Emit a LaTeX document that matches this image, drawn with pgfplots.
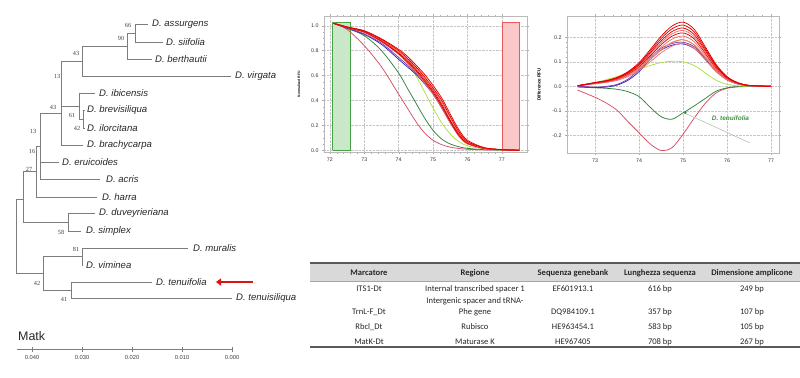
\documentclass[border=0pt]{standalone}
\usepackage{pgfplots}
\pgfplotsset{compat=1.18}
\usepackage{pgfplotstable}
\usepackage{fontspec}
\setmainfont{Liberation Sans}
\newfontfamily\carlito{Carlito}
\newfontfamily\tnr{Liberation Serif}
\usetikzlibrary{arrows.meta}

\definecolor{treegray}{RGB}{125,125,125}
\definecolor{arrowred}{RGB}{220,20,20}
\definecolor{bred}{RGB}{228,0,0}
\definecolor{lred}{RGB}{236,115,115}
\definecolor{pk}{RGB}{212,80,100}
\definecolor{dg}{RGB}{50,128,60}
\definecolor{yg}{RGB}{170,228,60}
\definecolor{bl}{RGB}{40,40,200}
\definecolor{pu}{RGB}{130,60,170}
\definecolor{orng}{RGB}{240,180,40}
\definecolor{headgray}{RGB}{217,217,217}
\definecolor{tabline}{RGB}{90,90,90}
\definecolor{annot}{RGB}{175,195,175}
\definecolor{gband}{RGB}{200,232,200}
\definecolor{gbandline}{RGB}{70,160,70}
\definecolor{rband}{RGB}{250,200,200}
\definecolor{rbandline}{RGB}{230,90,90}
\definecolor{annotgreen}{RGB}{60,150,60}

\pgfplotstableread{
x     r1    r2    r3    r4    r5    r6    or    bl    pu    yg    dg    pk
72.1  1.02  1.02  1.02  1.02  1.02  1.02  1.025 1.02  1.02  1.02  1.02  1.02
72.5  0.985 0.99  0.985 0.99  0.988 0.99  0.99  0.98  0.982 0.985 0.98  0.97
73.0  0.95  0.955 0.945 0.955 0.95  0.96  0.955 0.93  0.935 0.95  0.92  0.84
73.5  0.88  0.89  0.87  0.885 0.875 0.895 0.885 0.85  0.86  0.88  0.80  0.67
74.0  0.78  0.80  0.77  0.79  0.775 0.81  0.785 0.73  0.745 0.77  0.62  0.45
74.25 0.72  0.74  0.70  0.73  0.71  0.755 0.72  0.67  0.685 0.70  0.50  0.34
74.5  0.65  0.67  0.63  0.66  0.64  0.685 0.645 0.61  0.62  0.60  0.38  0.23
74.75 0.57  0.59  0.54  0.58  0.555 0.61  0.56  0.535 0.545 0.47  0.26  0.14
75.0  0.48  0.50  0.45  0.49  0.465 0.52  0.465 0.45  0.46  0.34  0.16  0.08
75.25 0.37  0.40  0.34  0.385 0.355 0.42  0.355 0.34  0.355 0.22  0.09  0.045
75.5  0.24  0.27  0.22  0.26  0.23  0.29  0.23  0.22  0.235 0.13  0.05  0.025
75.75 0.13  0.15  0.11  0.14  0.12  0.165 0.125 0.12  0.13  0.07  0.028 0.014
76.0  0.06  0.07  0.05  0.065 0.055 0.08  0.058 0.06  0.063 0.035 0.015 0.008
76.5  0.015 0.018 0.012 0.016 0.014 0.02  0.015 0.015 0.016 0.01  0.005 0.003
77.0  0.005 0.005 0.004 0.005 0.004 0.006 0.005 0.005 0.005 0.003 0.002 0.001
77.5  0     0     0     0     0     0     0     0     0     0     0     0
}\normtab

\pgfplotstableread{
x     r1     r2     r3     r4     r5     r6     r7     r8     or     bl     pu     yg     dg     pk
72.6  0.0026 0.0025 0.0024 0.0023 0.0022 0.0021 0.0019 0.0018 0.002  0.0    0.0    0.0    -0.003 -0.015
73.0  0.0157 0.015  0.0143 0.0137 0.0131 0.0123 0.0114 0.0105 0.012  -0.005 -0.003 0.015  -0.006 -0.045
73.25 0.0236 0.0225 0.0214 0.0205 0.0196 0.0185 0.0171 0.0158 0.02   -0.003 0.0    0.027  -0.008 -0.068
73.5  0.0367 0.035  0.0333 0.0319 0.0305 0.0287 0.0266 0.0245 0.03   0.005  0.008  0.04   -0.012 -0.098
73.75 0.0603 0.0575 0.0547 0.0524 0.0501 0.0472 0.0437 0.0403 0.048  0.025  0.03   0.055  -0.022 -0.145
74.0  0.0969 0.0925 0.0881 0.0844 0.0807 0.0759 0.0703 0.0648 0.075  0.06   0.068  0.07   -0.042 -0.19
74.25 0.1493 0.1425 0.1357 0.13   0.1243 0.1169 0.1083 0.0998 0.11   0.11   0.118  0.085  -0.085 -0.235
74.5  0.2044 0.195  0.1856 0.1778 0.17   0.1599 0.1482 0.1365 0.15   0.148  0.155  0.097  -0.124 -0.262
74.75 0.2463 0.235  0.2237 0.2143 0.2049 0.1927 0.1786 0.1645 0.18   0.168  0.175  0.102  -0.134 -0.25
75.0  0.262  0.25   0.238  0.228  0.218  0.205  0.19   0.175  0.19   0.173  0.18   0.1    -0.108 -0.195
75.25 0.2332 0.2225 0.2118 0.2029 0.194  0.1825 0.1691 0.1558 0.17   0.155  0.162  0.085  -0.08  -0.13
75.5  0.1624 0.155  0.1476 0.1414 0.1352 0.1271 0.1178 0.1085 0.12   0.113  0.118  0.055  -0.05  -0.07
75.75 0.0891 0.085  0.0809 0.0775 0.0741 0.0697 0.0646 0.0595 0.065  0.062  0.065  0.025  -0.02  -0.027
76.0  0.0393 0.0375 0.0357 0.0342 0.0327 0.0308 0.0285 0.0263 0.028  0.026  0.028  0.008  -0.006 -0.008
76.25 0.0144 0.0138 0.0131 0.0125 0.012  0.0113 0.0105 0.0096 0.01   0.009  0.01   0.002  -0.001 -0.002
76.5  0.0039 0.0038 0.0036 0.0034 0.0033 0.0031 0.0029 0.0026 0.003  0.002  0.002  0.0    0.0    0.0
77.0  0      0      0      0      0      0      0      0      0      0      0      0      0      0
}\difftab

\pgfplotsset{
  treeline/.style={draw=treegray, line width=0.8bp, mark=none},
  hrm/.style={scale only axis,
    axis line style={draw=gray!55, line width=0.4bp},
    tick style={draw=gray!65, line width=0.3bp},
    major tick length=2bp, minor tick length=1.1bp, tick align=outside,
    grid=major, major grid style={densely dotted, gray!45, line width=0.35bp},
    ticklabel style={font=\fontsize{5.3}{6}\selectfont, text=black!80},
    /pgf/number format/assume math mode=true,
    yticklabel style={/pgf/number format/.cd, fixed, fixed zerofill, precision=1},
    xticklabel style={/pgf/number format/.cd, fixed, precision=0},
    xtick={72,73,74,75,76,77}, minor x tick num=4,
    every axis plot/.append style={mark=none, smooth, line width=0.75bp}}
}
\tikzset{
  leaf/.style={anchor=west, font=\fontsize{9.6}{11}\selectfont\itshape, inner sep=0pt, text=black!85},
  sup/.style={font=\tnr\fontsize{6.3}{7}\selectfont, inner sep=0pt, text=black!75},
  tab/.style={font=\carlito\fontsize{8.6}{10}\selectfont, inner sep=0pt, text=black!85},
  tabh/.style={font=\carlito\bfseries\fontsize{8.6}{10}\selectfont, inner sep=0pt, text=black!85}
}

\begin{document}
\begin{tikzpicture}
\useasboundingbox (0,0) rectangle (800bp,378bp);
% ---------- background axis in image pixel coordinates ----------
\begin{axis}[at={(0,0)}, anchor=south west, scale only axis, width=800bp, height=378bp,
  xmin=0, xmax=800, ymin=0, ymax=378, y dir=reverse, hide axis, clip=false]
% tree
\addplot[treeline] coordinates {(148,24)(135,24)(135,42)(163,42)};
\addplot[treeline] coordinates {(135,33)(127,33)(127,59)(152,59)};
\addplot[treeline] coordinates {(127,46)(82,46)(82,76)(231,76)};
\addplot[treeline] coordinates {(82,61)(61,61)(61,145)(83,145)};
\addplot[treeline] coordinates {(61,106)(79,106)};
\addplot[treeline] coordinates {(95,93)(79,93)(79,119)(83,119)};
\addplot[treeline] coordinates {(85,110)(83,110)(83,128)(85,128)};
\addplot[treeline] coordinates {(61,113)(40,113)(40,179)(100,179)};
\addplot[treeline] coordinates {(40,162)(59,162)};
\addplot[treeline] coordinates {(40,146)(36,146)(36,197)(97,197)};
\addplot[treeline] coordinates {(36,171)(23,171)(23,222)(68,222)};
\addplot[treeline] coordinates {(95,213)(68,213)(68,231)(81,231)};
\addplot[treeline] coordinates {(23,199)(16,199)(16,273)(43,273)};
\addplot[treeline] coordinates {(82,256)(43,256)(43,290)(71,290)};
\addplot[treeline] coordinates {(188,248)(82,248)(82,265)(83,265)};
\addplot[treeline] coordinates {(152,282)(71,282)(71,298)(232,298)};
% leaf names
\node[leaf] at (axis cs:152,24) {D. assurgens};
\node[leaf] at (axis cs:166,42) {D. siifolia};
\node[leaf] at (axis cs:155,59) {D. berthautii};
\node[leaf] at (axis cs:235,76) {D. virgata};
\node[leaf] at (axis cs:99,93) {D. ibicensis};
\node[leaf] at (axis cs:87,110) {D. brevisiliqua};
\node[leaf] at (axis cs:87,128) {D. ilorcitana};
\node[leaf] at (axis cs:87,145) {D. brachycarpa};
\node[leaf] at (axis cs:62,162) {D. eruicoides};
\node[leaf] at (axis cs:106,179) {D. acris};
\node[leaf] at (axis cs:102,197) {D. harra};
\node[leaf] at (axis cs:99,213) {D. duveyrieriana};
\node[leaf] at (axis cs:86,231) {D. simplex};
\node[leaf] at (axis cs:193,248) {D. muralis};
\node[leaf] at (axis cs:86,265) {D. viminea};
\node[leaf] at (axis cs:156,282) {D. tenuifolia};
\node[leaf] at (axis cs:236,298) {D. tenuisiliqua};
% support values
\node[sup] at (axis cs:128,25) {66};
\node[sup] at (axis cs:121,38) {90};
\node[sup] at (axis cs:76,53) {43};
\node[sup] at (axis cs:57,76) {13};
\node[sup] at (axis cs:53,107) {43};
\node[sup] at (axis cs:72,115) {61};
\node[sup] at (axis cs:77,128) {42};
\node[sup] at (axis cs:33,131) {13};
\node[sup] at (axis cs:32,151) {16};
\node[sup] at (axis cs:29,169) {27};
\node[sup] at (axis cs:61,232) {58};
\node[sup] at (axis cs:76,249) {81};
\node[sup] at (axis cs:37,283) {42};
\node[sup] at (axis cs:64,299) {41};
% red arrow
\addplot[draw=arrowred, line width=2.6bp, mark=none, -{Triangle[length=5bp,width=7bp]}] coordinates {(253,282)(216,282)};
% scale bar
\node[anchor=west, inner sep=0pt, font=\fontsize{12.5}{14}\selectfont, text=black!85] at (axis cs:18,336) {Matk};
\addplot[treeline] coordinates {(17,349)(232,349)};
\addplot[treegray, only marks, mark=|, mark size=2.5bp, mark options={line width=0.8bp}] coordinates {(32,349)(82,349)(132,349)(182,349)(232,349)};
\node[font=\fontsize{5.8}{7}\selectfont, text=black!75] at (axis cs:32,358) {0.040};
\node[font=\fontsize{5.8}{7}\selectfont, text=black!75] at (axis cs:82,358) {0.030};
\node[font=\fontsize{5.8}{7}\selectfont, text=black!75] at (axis cs:132,358) {0.020};
\node[font=\fontsize{5.8}{7}\selectfont, text=black!75] at (axis cs:182,358) {0.010};
\node[font=\fontsize{5.8}{7}\selectfont, text=black!75] at (axis cs:232,358) {0.000};
% table
\addplot[fill=headgray, draw=none, mark=none] coordinates {(310,263)(800,263)(800,281)(310,281)(310,263)};
\addplot[draw=tabline, line width=1.3bp, mark=none] coordinates {(310,263)(800,263)};
\addplot[draw=gray!70, line width=0.4bp, mark=none] coordinates {(310,281)(800,281)};
\addplot[draw=tabline, line width=1.3bp, mark=none] coordinates {(310,347)(800,347)};
\node[tabh] at (axis cs:369,273) {Marcatore};
\node[tabh] at (axis cs:475,273) {Regione};
\node[tabh] at (axis cs:573,273) {Sequenza genebank};
\node[tabh] at (axis cs:660,273) {Lunghezza sequenza};
\node[tabh] at (axis cs:752,273) {Dimensione amplicone};
\node[tab] at (axis cs:369,289) {ITS1-Dt};
\node[tab] at (axis cs:475,289) {Internal transcribed spacer 1};
\node[tab] at (axis cs:573,289) {EF601913.1};
\node[tab] at (axis cs:660,289) {616 bp};
\node[tab] at (axis cs:752,289) {249 bp};
\node[tab] at (axis cs:475,301) {Intergenic spacer and tRNA-};
\node[tab] at (axis cs:369,312) {TrnL-F\_Dt};
\node[tab] at (axis cs:475,312) {Phe gene};
\node[tab] at (axis cs:573,312) {DQ984109.1};
\node[tab] at (axis cs:660,312) {357 bp};
\node[tab] at (axis cs:752,312) {107 bp};
\node[tab] at (axis cs:369,327) {Rbcl\_Dt};
\node[tab] at (axis cs:475,327) {Rubisco};
\node[tab] at (axis cs:573,327) {HE963454.1};
\node[tab] at (axis cs:660,327) {583 bp};
\node[tab] at (axis cs:752,327) {105 bp};
\node[tab] at (axis cs:369,342) {MatK-Dt};
\node[tab] at (axis cs:475,342) {Maturase K};
\node[tab] at (axis cs:573,342) {HE967405};
\node[tab] at (axis cs:660,342) {708 bp};
\node[tab] at (axis cs:752,342) {267 bp};
\end{axis}

% ---------- normalized RFU ----------
\begin{axis}[hrm, at={(324bp,225.5bp)}, anchor=south west, width=203bp, height=136.5bp,
  xmin=71.83, xmax=77.73, ymin=-0.018, ymax=1.078,
  ytick={0,0.2,0.4,0.6,0.8,1.0}, minor y tick num=3,
  ylabel={Normalized RFU}, ylabel style={font=\bfseries\fontsize{3.4}{4}\selectfont, at={(axis description cs:-0.1,0.5)}}]
\addplot[fill=gband, draw=gbandline, line width=0.5bp, sharp plot] coordinates {(72.08,0)(72.6,0)(72.6,1.025)(72.08,1.025)(72.08,0)};
\addplot[fill=rband, draw=rbandline, line width=0.5bp, sharp plot] coordinates {(77.0,0)(77.5,0)(77.5,1.025)(77.0,1.025)(77.0,0)};
\addplot[pk] table[x=x,y=pk] {\normtab};
\addplot[dg] table[x=x,y=dg] {\normtab};
\addplot[yg] table[x=x,y=yg] {\normtab};
\addplot[bl] table[x=x,y=bl] {\normtab};
\addplot[pu] table[x=x,y=pu] {\normtab};
\addplot[orng] table[x=x,y=or] {\normtab};
\addplot[lred] table[x=x,y=r3] {\normtab};
\addplot[bred] table[x=x,y=r5] {\normtab};
\addplot[bred] table[x=x,y=r1] {\normtab};
\addplot[lred] table[x=x,y=r4] {\normtab};
\addplot[bred] table[x=x,y=r2] {\normtab};
\addplot[bred] table[x=x,y=r6] {\normtab};
\end{axis}

% ---------- difference RFU ----------
\begin{axis}[hrm, at={(567bp,225bp)}, anchor=south west, width=212bp, height=137bp,
  xmin=72.36, xmax=77.18, ymin=-0.272, ymax=0.287, xtick={73,74,75,76,77},
  ytick={-0.2,-0.1,0,0.1,0.2}, minor y tick num=4, clip=false,
  ylabel={Difference RFU}, ylabel style={font=\bfseries\fontsize{4.5}{5}\selectfont, at={(axis description cs:-0.108,0.5)}}]
\addplot[pk] table[x=x,y=pk] {\difftab};
\addplot[dg] table[x=x,y=dg] {\difftab};
\addplot[yg] table[x=x,y=yg] {\difftab};
\addplot[bl] table[x=x,y=bl] {\difftab};
\addplot[pu] table[x=x,y=pu] {\difftab};
\addplot[orng] table[x=x,y=or] {\difftab};
\addplot[lred] table[x=x,y=r8] {\difftab};
\addplot[lred] table[x=x,y=r7] {\difftab};
\addplot[lred] table[x=x,y=r6] {\difftab};
\addplot[bred] table[x=x,y=r5] {\difftab};
\addplot[lred] table[x=x,y=r4] {\difftab};
\addplot[bred] table[x=x,y=r3] {\difftab};
\addplot[bred] table[x=x,y=r2] {\difftab};
\addplot[bred] table[x=x,y=r1] {\difftab};
\addplot[annot, sharp plot, line width=0.6bp] coordinates {(75.05,-0.11)(76.52,-0.231)};
\addplot[dg, only marks, mark=*, mark size=0.8bp] coordinates {(75.05,-0.108)};
\node[font=\bfseries\itshape\fontsize{6.5}{7}\selectfont, text=annotgreen, anchor=west, inner sep=0pt] at (axis cs:75.65,-0.13) {D. tenuifolia};
\end{axis}
\end{tikzpicture}
\end{document}
